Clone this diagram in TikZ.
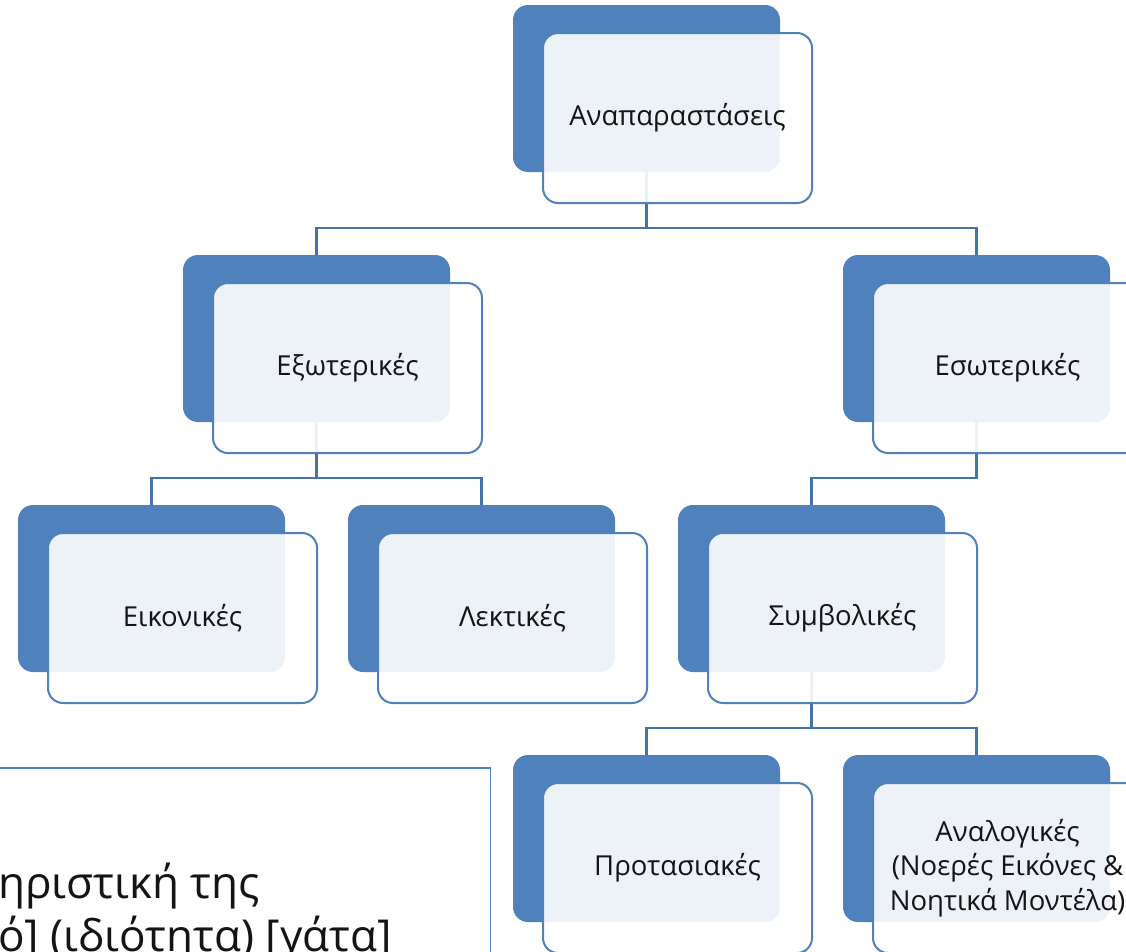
\documentclass[tikz,border=0pt]{standalone}
\usepackage{fontspec}
\setmainfont{Open Sans}
\definecolor{accent}{HTML}{4F81BD}
\definecolor{linkc}{HTML}{4672AA}
\definecolor{ink}{HTML}{141414}
\begin{document}
\begin{tikzpicture}[x=1pt,y=-1pt,
  back/.style={rectangle, rounded corners=15pt, fill=accent, minimum width=267pt, minimum height=167pt, inner sep=0pt},
  front/.style={rectangle, rounded corners=15pt, fill=white, fill opacity=0.9, text opacity=1, draw=accent, draw opacity=1, line width=2pt, minimum width=269pt, minimum height=170pt, inner sep=0pt, font=\fontsize{27.5}{34.5}\selectfont, text=ink, align=center},
  link/.style={draw=linkc, line width=2.5pt}]
\clip (0,0) rectangle (1126,951);
\fill[white] (0,0) rectangle (1126,951);
% back boxes
\node[back] (b-root) at (646.5,88.5) {};
\node[back] (b-ext) at (316.5,338.5) {};
\node[back] (b-int) at (976.5,338.5) {};
\node[back] (b-eik) at (151.5,588.5) {};
\node[back] (b-lek) at (481.5,588.5) {};
\node[back] (b-sym) at (811.5,588.5) {};
\node[back] (b-prot) at (646.5,838.5) {};
\node[back] (b-anal) at (976.5,838.5) {};
% connectors
\draw[link] (b-root.south) -- ++(0,56) -| (b-ext.north);
\draw[link] (b-root.south) -- ++(0,56) -| (b-int.north);
\draw[link] (b-ext.south) -- ++(0,56) -| (b-eik.north);
\draw[link] (b-ext.south) -- ++(0,56) -| (b-lek.north);
\draw[link] (b-int.south) -- ++(0,56) -| (b-sym.north);
\draw[link] (b-sym.south) -- ++(0,56) -| (b-prot.north);
\draw[link] (b-sym.south) -- ++(0,56) -| (b-anal.north);
% front boxes
\node[front] (f-root) at (677.5,118) {Αναπαραστάσεις};
\node[front] (f-ext) at (347.5,368) {Εξωτερικές};
\node[front] (f-int) at (1007.5,368) {Εσωτερικές};
\node[front] (f-eik) at (182.5,618) {Εικονικές};
\node[front] (f-lek) at (512.5,618) {Λεκτικές};
\node[front] (f-sym) at (842.5,618) {Συμβολικές};
\node[front] (f-prot) at (677.5,868) {Προτασιακές};
\node[front] (f-anal) at (1007.5,868) {Αναλογικές\\(Νοερές Εικόνες \&\\Νοητικά Μοντέλα)};
% text box
\node[draw=accent, line width=1.5pt, anchor=north east, minimum width=520pt, minimum height=220pt, inner sep=0pt] (tbox) at (491,767) {};
\node[anchor=base west, font=\fontsize{44}{53}\selectfont, align=left, inner sep=0pt, text=ink] (ttext) at (-2,951) {ηριστική της\\ό] (ιδιότητα) [γάτα]};
\end{tikzpicture}
\end{document}
